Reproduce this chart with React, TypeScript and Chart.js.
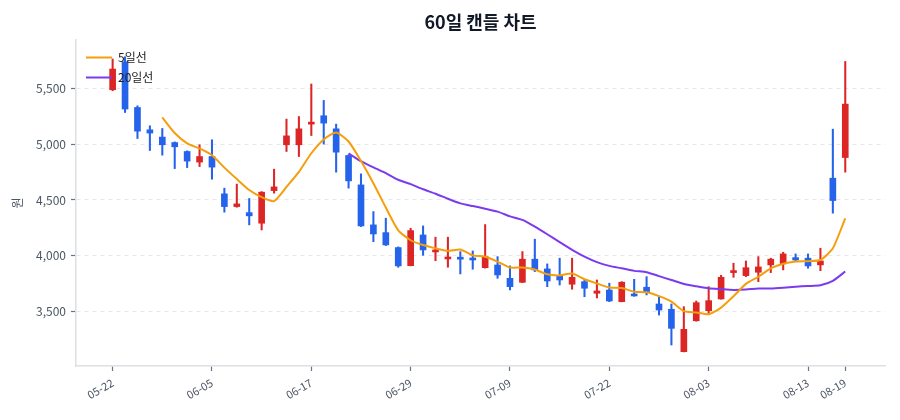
import { useEffect, useRef } from "react";
import { Chart, registerables } from "chart.js";

Chart.register(...registerables);

const dates = [
  "05-22", "05-23", "05-24", "05-27", "05-28", "05-29", "05-30", "06-03", "06-05", "06-07",
  "06-10", "06-11", "06-12", "06-13", "06-14", "06-15", "06-17", "06-18", "06-19", "06-20",
  "06-21", "06-24", "06-25", "06-26", "06-29", "07-01", "07-02", "07-03", "07-04", "07-05",
  "07-06", "07-08", "07-09", "07-10", "07-11", "07-12", "07-15", "07-16", "07-17", "07-19",
  "07-22", "07-23", "07-24", "07-25", "07-26", "07-29", "07-30", "07-31", "08-03", "08-05",
  "08-06", "08-07", "08-08", "08-09", "08-10", "08-12", "08-13", "08-14", "08-16", "08-19",
];

const opens = [
  5487, 5737, 5328, 5128, 5063, 5014, 4934, 4839, 4889, 4555,
  4441, 4387, 4292, 4584, 4994, 4994, 5179, 5254, 5137, 4898,
  4635, 4277, 4208, 4074, 3912, 4187, 4035, 3972, 3984, 3975,
  3894, 3918, 3799, 3763, 3970, 3883, 3820, 3746, 3769, 3665,
  3694, 3590, 3658, 3719, 3569, 3522, 3142, 3419, 3509, 3614,
  3850, 3823, 3853, 3919, 3928, 3984, 3979, 3919, 4695, 4880,
];

const highs = [
  5762, 5782, 5343, 5164, 5140, 5020, 4940, 4994, 5039, 4606,
  4642, 4513, 4575, 4776, 5224, 5247, 5538, 5391, 5179, 4905,
  4734, 4396, 4337, 4080, 4247, 4268, 4167, 4167, 4038, 4044,
  4280, 3993, 3910, 4038, 4149, 3928, 3979, 3979, 3784, 3784,
  3755, 3769, 3790, 3814, 3634, 3569, 3545, 3596, 3724, 3826,
  3934, 3954, 3993, 3979, 4032, 4017, 4017, 4068, 5134, 5740,
];

const lows = [
  5478, 5283, 5050, 4943, 4901, 4781, 4790, 4799, 4686, 4391,
  4435, 4277, 4232, 4561, 4934, 4889, 5077, 5000, 4749, 4606,
  4262, 4127, 4092, 3898, 3910, 4005, 3957, 3898, 3838, 3880,
  3890, 3799, 3695, 3760, 3859, 3724, 3739, 3701, 3634, 3623,
  3590, 3588, 3638, 3650, 3470, 3202, 3140, 3415, 3486, 3612,
  3808, 3814, 3769, 3850, 3874, 3954, 3889, 3867, 4382, 4749,
];

const closes = [
  5672, 5314, 5116, 5099, 4994, 4976, 4848, 4889, 4794, 4441,
  4465, 4358, 4570, 4617, 5074, 5137, 5194, 5188, 4928, 4671,
  4268, 4196, 4098, 3910, 4226, 4053, 4047, 3988, 3970, 3963,
  3993, 3829, 3724, 3970, 3874, 3775, 3784, 3808, 3710, 3686,
  3596, 3764, 3641, 3679, 3515, 3351, 3342, 3581, 3599, 3808,
  3862, 3894, 3901, 3970, 4017, 3963, 3910, 3954, 4495, 5358,
];

const yTickValues = [3500, 4000, 4500, 5000, 5500];
const xTickIndex = [0, 8, 16, 24, 32, 40, 48, 56, 59];

const UP = "#dc2626";
const DOWN = "#2563eb";
const FONT = "'Noto Sans CJK KR', 'Noto Sans', sans-serif";

function movingAverage(values: number[], n: number) {
  return values.map((_, i) => {
    if (i < n - 1) return null;
    let sum = 0;
    for (let k = i - n + 1; k <= i; k++) sum += values[k];
    return sum / n;
  });
}

// the chartArea legend keeps top = 0 after layout and is drawn under the
// datasets, so pin it to the plot's top corner and draw it on top
const legendInArea = {
  id: "legendInArea",
  beforeLayout(chart: any) {
    const lg = chart.legend;
    if (!lg) return;
    lg._layers = () => [{ z: 1, draw: (area: any) => lg.draw(area) }];
  },
  afterLayout(chart: any) {
    const lg = chart.legend;
    if (!lg) return;
    const h = lg.bottom - lg.top;
    lg.top = chart.chartArea.top + 3.5;
    lg.bottom = lg.top + h;
    lg.left = chart.chartArea.left + 2;
  },
};

export default function App() {
  const canvasRef = useRef<HTMLCanvasElement | null>(null);

  useEffect(() => {
    document.body.style.margin = "0";
    const canvas = canvasRef.current;
    if (!canvas) return;

    const colors = closes.map((c, i) => (c >= opens[i] ? UP : DOWN));
    const ma5 = movingAverage(closes, 5);
    const ma20 = movingAverage(closes, 20);

    const chart = new Chart(canvas, {
      type: "bar",
      data: {
        datasets: [
          {
            type: "line",
            label: "5일선",
            data: ma5.map((v, i) => ({ x: i, y: v })),
            borderColor: "#f59e0b",
            backgroundColor: "#f59e0b",
            borderWidth: 2,
            pointRadius: 0,
            tension: 0.2,
            order: 0,
          },
          {
            type: "line",
            label: "20일선",
            data: ma20.map((v, i) => ({ x: i, y: v })),
            borderColor: "#7c3aed",
            backgroundColor: "#7c3aed",
            borderWidth: 2,
            pointRadius: 0,
            tension: 0.2,
            order: 0,
          },
          {
            label: "",
            data: lows.map((l, i) => ({ x: i, y: [l, highs[i]] })),
            backgroundColor: colors,
            barThickness: 1.4,
            grouped: false,
            order: 2,
          },
          {
            label: "",
            data: opens.map((o, i) => ({
              x: i,
              y: [Math.min(o, closes[i]), Math.max(o, closes[i])],
            })),
            backgroundColor: colors,
            barThickness: 6,
            minBarLength: 2,
            grouped: false,
            order: 1,
          },
        ] as any,
      },
      options: {
        animation: false,
        responsive: true,
        maintainAspectRatio: false,
        events: [],
        layout: { padding: { left: 0, right: 15, top: 0, bottom: 0 } },
        plugins: {
          title: {
            display: true,
            text: "60일 캔들 차트",
            fullSize: false,
            color: "#111827",
            font: { family: FONT, size: 18, weight: "bold" },
            padding: { top: 11, bottom: 7.4 },
          },
          legend: {
            position: "chartArea",
            align: "start",
            labels: {
              filter: (item) => item.text !== "",
              usePointStyle: true,
              pointStyle: "line",
              pointStyleWidth: 26,
              padding: 8,
              color: "#222222",
              font: { family: FONT, size: 12 },
            },
          },
          tooltip: { enabled: false },
        },
        scales: {
          x: {
            type: "linear",
            offset: false,
            min: -2.95,
            max: 62.2,
            afterBuildTicks: (axis) => {
              axis.ticks = xTickIndex.map((v) => ({ value: v }));
            },
            afterFit: (axis) => {
              axis.height = 54;
            },
            ticks: {
              autoSkip: false,
              minRotation: 30,
              maxRotation: 30,
              padding: 5,
              color: "#4b5563",
              font: { family: FONT, size: 11 },
              callback: (v) => dates[Number(v)] ?? "",
            },
            grid: {
              drawOnChartArea: false,
              tickLength: 5,
              tickColor: "#6b7280",
              tickWidth: 1.2,
              offset: false,
            },
            border: { color: "#dcdfe4", width: 1.5 },
          },
          y: {
            min: 3014,
            max: 5932,
            afterBuildTicks: (axis) => {
              axis.ticks = yTickValues.map((v) => ({ value: v }));
            },
            afterFit: (axis) => {
              axis.width = 76;
            },
            title: {
              display: true,
              text: "원",
              color: "#4b5563",
              font: { family: FONT, size: 12 },
              padding: { top: 10, bottom: 0 },
            },
            ticks: {
              padding: 5,
              color: "#4b5563",
              font: { family: FONT, size: 12 },
              callback: (v) => Number(v).toLocaleString("en-US"),
            },
            grid: {
              color: "#e5e7eb",
              tickColor: "#6b7280",
              tickLength: 5,
              tickWidth: 1.2,
            },
            border: { color: "#dcdfe4", width: 1.5, dash: [4, 4] },
          },
        },
      },
      plugins: [legendInArea],
    });

    return () => {
      chart.destroy();
    };
  }, []);

  return (
    <div style={{ width: 900, height: 420, position: "relative" }}>
      <canvas ref={canvasRef} />
    </div>
  );
}
